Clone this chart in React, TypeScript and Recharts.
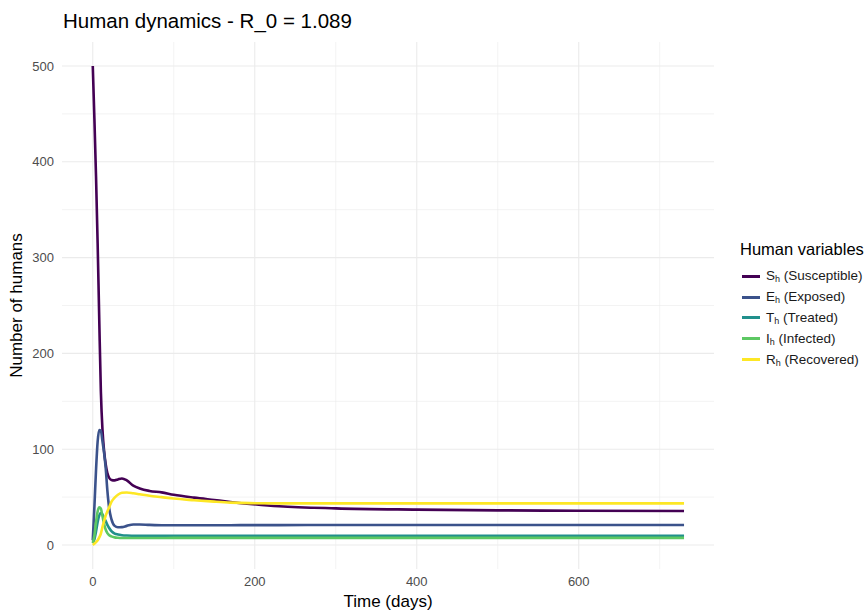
import { CartesianGrid, Line, LineChart, XAxis, YAxis } from 'recharts';

const times = [
  0, 2, 4, 6, 8, 10, 12, 14, 16, 18, 20, 23, 27, 31, 36, 42, 50, 58, 70, 85, 100, 125, 150, 170, 194, 230,
  300, 400, 500, 600, 730,
];

const susceptible = [
  500, 445, 385, 315, 235, 160, 120, 98, 84, 75, 70.5, 68, 67.5, 68.5, 69.5, 67.5, 62, 59, 56.5, 55, 52.5, 49.5,
  47, 45, 43, 40.5, 38.3, 37, 36.2, 35.8, 35.5,
];
const exposed = [
  5, 40, 78, 108, 120, 119, 108, 96, 80, 57, 40, 27, 20, 18.5, 18.7, 20, 21.5, 21.5, 21, 20.7, 20.6, 20.6, 20.7,
  20.7, 20.8, 20.8, 20.9, 20.9, 20.9, 20.9, 20.9,
];
const treated = [
  3, 6, 14, 24, 31, 33.5, 32, 28, 25, 21, 18, 14.5, 12, 11, 10.3, 9.9, 9.7, 9.6, 9.6, 9.6, 9.6, 9.6, 9.6, 9.6, 9.6,
  9.6, 9.7, 9.7, 9.7, 9.7, 9.7,
];
const infected = [
  2, 10, 24, 35, 39.5, 38, 30, 22, 16, 12.5, 10.5, 9, 8, 7.6, 7.4, 7.4, 7.4, 7.4, 7.4, 7.4, 7.5, 7.5, 7.5, 7.5,
  7.5, 7.5, 7.5, 7.5, 7.5, 7.5, 7.5,
];
const recovered = [
  0, 1.5, 3, 5, 8, 12, 19, 25, 31, 35, 39, 45, 49.5, 52.5, 54.5, 54.8, 54, 53, 51.5, 50, 48.5, 46.8, 45.3, 44.3,
  43.7, 43.5, 43.5, 43.5, 43.5, 43.5, 43.5,
];

const xTicks = [0, 200, 400, 600];
const xMinor = [100, 300, 500, 700];
const yTicks = [0, 100, 200, 300, 400, 500];
const yMinor = [50, 150, 250, 350, 450];

const series = [
  { key: 'S', name: 'Susceptible', color: '#440154', values: susceptible },
  { key: 'E', name: 'Exposed', color: '#3B528B', values: exposed },
  { key: 'T', name: 'Treated', color: '#21908C', values: treated },
  { key: 'I', name: 'Infected', color: '#5DC863', values: infected },
  { key: 'R', name: 'Recovered', color: '#FDE725', values: recovered },
];

const data = times.map((t, i) => {
  const row: Record<string, number> = { t };
  series.forEach((s) => {
    row[s.key] = s.values[i];
  });
  return row;
});

const font = '"Liberation Sans", Arial, sans-serif';

export default function App() {
  return (
    <div style={{ position: 'absolute', left: 0, top: 0, width: 868, height: 612, fontFamily: font, background: '#fff' }}>
      <div style={{ position: 'absolute', left: 63, top: 11, fontSize: 20.5, lineHeight: 1, color: '#000', whiteSpace: 'nowrap' }}>
        Human dynamics - R_0 = 1.089
      </div>
      <LineChart width={868} height={612} data={data} margin={{ top: 42, right: 154, left: 0, bottom: 0 }}>
        <CartesianGrid stroke="#ebebeb" strokeWidth={0.6} verticalValues={xMinor} horizontalValues={yMinor} />
        <CartesianGrid stroke="#ebebeb" strokeWidth={1.1} verticalValues={xTicks} horizontalValues={yTicks} />
        <XAxis
          dataKey="t"
          type="number"
          domain={[-38, 767]}
          allowDataOverflow
          ticks={xTicks}
          axisLine={false}
          tickLine={false}
          height={43}
          tick={{ fill: '#4d4d4d', fontSize: 13, fontFamily: font }}
          label={{ value: 'Time (days)', position: 'insideBottom', offset: 5, fill: '#000', fontSize: 17, fontFamily: font }}
        />
        <YAxis
          type="number"
          domain={[-25, 525]}
          allowDataOverflow
          ticks={yTicks}
          axisLine={false}
          tickLine={false}
          width={62}
          tick={{ fill: '#4d4d4d', fontSize: 13, fontFamily: font }}
          label={{
            value: 'Number of humans',
            angle: -90,
            position: 'insideLeft',
            offset: 16,
            style: { textAnchor: 'middle' },
            fill: '#000',
            fontSize: 17,
            fontFamily: font,
          }}
        />
        {series.map((s) => (
          <Line
            key={s.key}
            type="monotone"
            dataKey={s.key}
            stroke={s.color}
            strokeWidth={2.6}
            dot={false}
            activeDot={false}
            isAnimationActive={false}
          />
        ))}
      </LineChart>
      <div style={{ position: 'absolute', left: 740, top: 239, whiteSpace: 'nowrap' }}>
        <div style={{ fontSize: 16.5, lineHeight: '20px', color: '#000', marginBottom: 7 }}>Human variables</div>
        {series.map((s) => (
          <div key={s.key} style={{ display: 'flex', alignItems: 'center', height: 20.8, fontSize: 13.5, color: '#1a1a1a' }}>
            <span style={{ display: 'inline-block', width: 18, height: 3, background: s.color, marginLeft: 2, marginRight: 6 }} />
            <span>
              {s.key}
              <sub style={{ fontSize: 9, verticalAlign: -2 }}>h</sub> ({s.name})
            </span>
          </div>
        ))}
      </div>
    </div>
  );
}
